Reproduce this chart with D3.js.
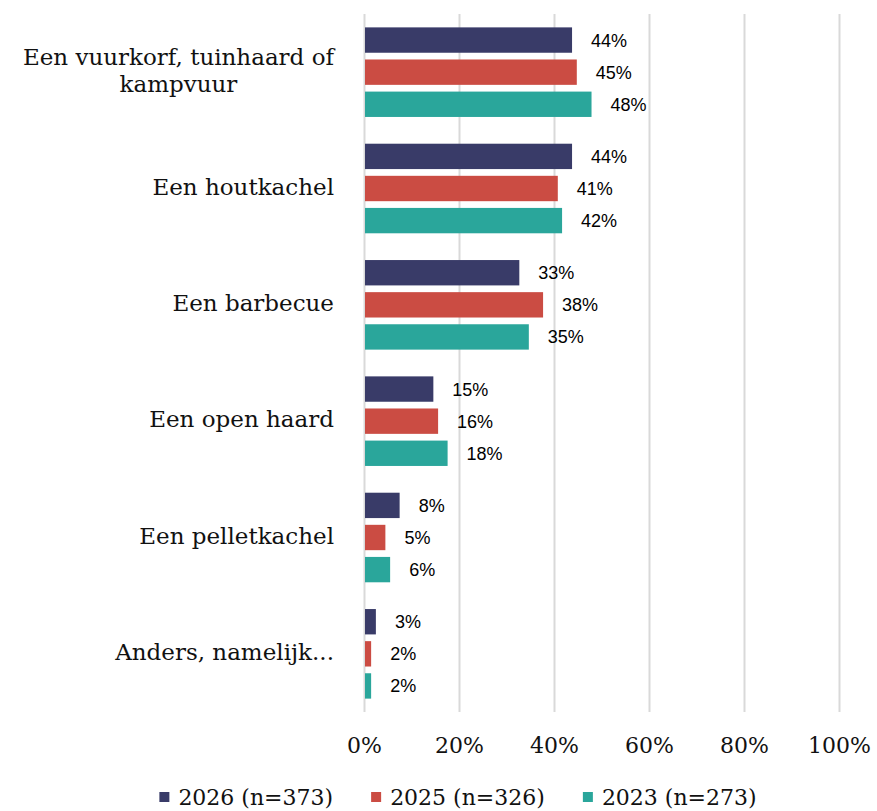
<!DOCTYPE html>
<html>
<head>
<meta charset="utf-8">
<script src="https://cdn.jsdelivr.net/npm/d3@7"></script>
<style>
    body { margin: 0; background: #fff; }
    svg { display: block; }
</style>
</head>
<body>
<div id="chart"></div>
<script>
(function() {
    'use strict';

    // data (percent)
    var categories = [
        "Een vuurkorf, tuinhaard of kampvuur",
        "Een houtkachel",
        "Een barbecue",
        "Een open haard",
        "Een pelletkachel",
        "Anders, namelijk..."
    ];
    var seriesNames = ["2026 (n=373)", "2025 (n=326)", "2023 (n=273)"];
    var values2026 = [43.8, 43.8, 32.7, 14.6, 7.5, 2.5];
    var values2025 = [44.8, 40.8, 37.7, 15.6, 4.5, 1.5];
    var values2023 = [47.9, 41.7, 34.7, 17.6, 5.5, 1.5];
    var xTicks = [0, 20, 40, 60, 80, 100];
    var colors = ["#393b68", "#cb4c43", "#2aa69b"];

    var seriesValues = [values2026, values2025, values2023];

    var totalWidth = 877;
    var totalHeight = 811;
    var margin = {top: 14, left: 364};
    var width = 475;
    var height = 698;
    var serifFont = "'DejaVu Serif', serif";
    var labelFont = "'Liberation Sans', Arial, sans-serif";

    var svg = d3.select("#chart").append("svg")
        .attr("width", totalWidth)
        .attr("height", totalHeight);

    var g = svg.append("g")
        .attr("transform", "translate(" + margin.left + "," + margin.top + ")");

    var x = d3.scaleLinear()
        .domain([0, 100])
        .range([0, width]);

    var y0 = d3.scaleBand()
        .domain(categories)
        .range([0, height])
        .paddingInner(0.23)
        .paddingOuter(0.115);

    var y1 = d3.scaleBand()
        .domain(seriesNames)
        .range([0, y0.bandwidth()])
        .paddingInner(0.21);

    var color = d3.scaleOrdinal()
        .domain(seriesNames)
        .range(colors);

    // vertical gridlines
    g.append("g")
        .attr("class", "grid")
        .attr("transform", "translate(0," + height + ")")
        .call(d3.axisBottom(x).tickValues(xTicks).tickSize(-height).tickFormat(""))
        .call(sel => sel.select(".domain").remove())
        .selectAll("line")
        .style("stroke", "#d9d9d9")
        .style("stroke-width", 2);

    // x tick labels
    g.append("g")
        .attr("class", "x-axis")
        .attr("transform", "translate(0," + height + ")")
        .call(d3.axisBottom(x).tickValues(xTicks).tickSize(0).tickPadding(25)
            .tickFormat(d => d + "%"))
        .call(sel => sel.select(".domain").remove())
        .selectAll("text")
        .style("font-family", serifFont)
        .style("font-size", "22px")
        .style("fill", "#111");

    // bars
    var groups = g.selectAll(".category")
        .data(categories)
        .enter().append("g")
        .attr("class", "category")
        .attr("transform", d => "translate(0," + y0(d) + ")");

    var cells = groups.selectAll(".cell")
        .data((d, i) => seriesNames.map((s, j) => ({series: s, value: seriesValues[j][i]})))
        .enter().append("g")
        .attr("class", "cell");

    cells.append("rect")
        .attr("x", x(0) + 1)
        .attr("y", d => y1(d.series))
        .attr("width", d => x(d.value) - x(0) - 1)
        .attr("height", y1.bandwidth())
        .attr("fill", d => color(d.series));

    cells.append("text")
        .attr("x", d => x(d.value) + 19)
        .attr("y", d => y1(d.series) + y1.bandwidth() / 2)
        .attr("dy", "0.36em")
        .style("font-family", labelFont)
        .style("font-size", "18px")
        .style("fill", "#000")
        .text(d => Math.round(d.value) + "%");

    // category labels, wrapped like the original
    var labelRight = -30;
    var maxLabelWidth = 330;
    var lineHeight = 27;
    var catFontSize = "23px";

    groups.each(function(cat) {
        var grp = d3.select(this);
        var words = cat.split(" ");
        var lines = [];
        var line = [];
        var probe = grp.append("text")
            .style("font-family", serifFont)
            .style("font-size", catFontSize);
        words.forEach(function(w) {
            line.push(w);
            probe.text(line.join(" "));
            if (probe.node().getComputedTextLength() > maxLabelWidth && line.length > 1) {
                line.pop();
                lines.push(line.join(" "));
                line = [w];
            }
        });
        lines.push(line.join(" "));

        var widths = lines.map(function(l) {
            probe.text(l);
            return probe.node().getComputedTextLength();
        });
        probe.remove();

        var label = grp.append("text")
            .style("font-family", serifFont)
            .style("font-size", catFontSize)
            .style("fill", "#111");

        var blockWidth = d3.max(widths);
        var center = labelRight - blockWidth / 2;
        var mid = y0.bandwidth() / 2;
        var firstY = mid - (lines.length - 1) * lineHeight / 2 - 2;

        lines.forEach(function(l, i) {
            label.append("tspan")
                .attr("x", lines.length > 1 ? center : labelRight)
                .attr("y", firstY + i * lineHeight)
                .attr("dy", "0.35em")
                .attr("text-anchor", lines.length > 1 ? "middle" : "end")
                .text(l);
        });
    });

    // legend
    var legendY = 797;
    var squareSize = 10;
    var legend = svg.append("g").attr("class", "legend");

    var items = legend.selectAll(".legend-item")
        .data(seriesNames)
        .enter().append("g")
        .attr("class", "legend-item");

    items.append("rect")
        .attr("y", legendY - squareSize / 2)
        .attr("width", squareSize)
        .attr("height", squareSize)
        .attr("fill", d => color(d));

    items.append("text")
        .attr("x", squareSize + 9)
        .attr("y", legendY)
        .attr("dy", "0.35em")
        .style("font-family", serifFont)
        .style("font-size", "22px")
        .style("fill", "#111")
        .text(d => d);

    var offset = 0;
    var itemGap = 38;
    var positions = [];
    items.each(function() {
        var w = squareSize + 9 + d3.select(this).select("text").node().getComputedTextLength();
        positions.push(offset);
        offset += w + itemGap;
    });
    var legendWidth = offset - itemGap;
    var legendStart = 458 - legendWidth / 2;
    items.attr("transform", (d, i) => "translate(" + (legendStart + positions[i]) + ",0)");
})();
</script>
</body>
</html>
